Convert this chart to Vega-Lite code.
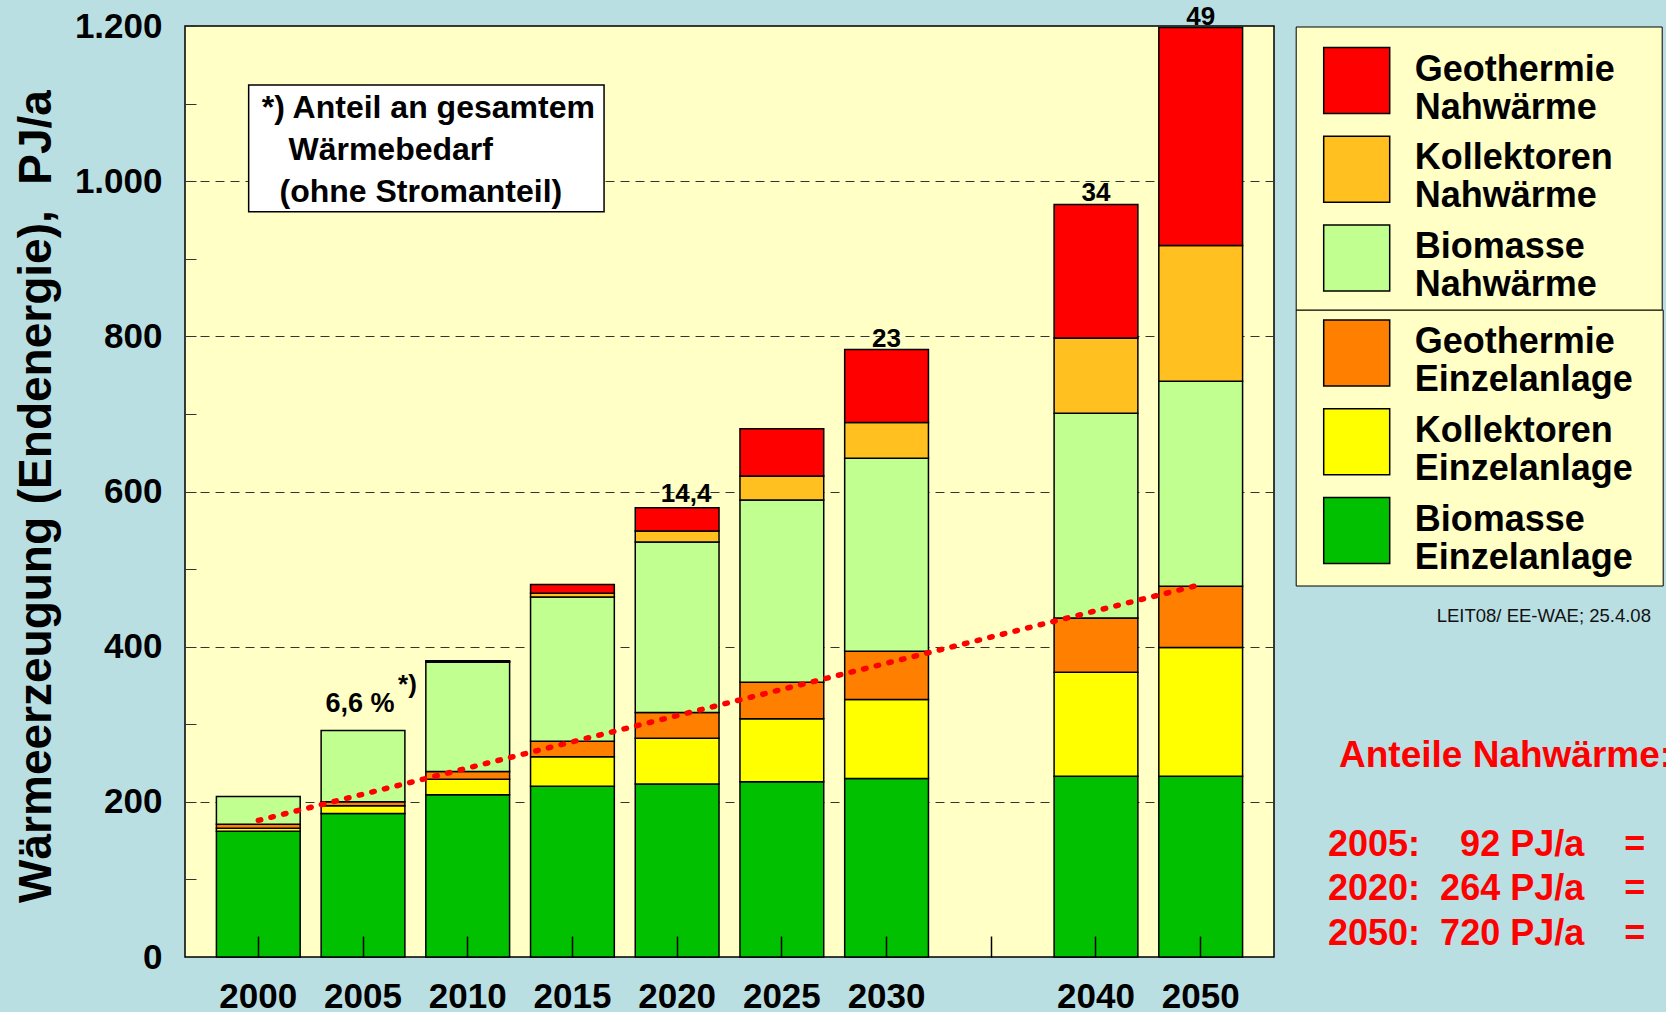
{
  "$schema": "https://vega.github.io/schema/vega-lite/v6.json",
  "width": 1089,
  "height": 931,
  "autosize": {"type": "none"},
  "padding": {"left": 185, "top": 26, "right": 392, "bottom": 55},
  "background": "#B9DFE3",
  "config": {
    "font": "Liberation Sans",
    "view": {"fill": "#FFFFC6", "stroke": "#000000", "strokeWidth": 1.5}
  },
  "datasets": {
    "werte": [
      {"jahr": "2000", "typ": "Biomasse Einzelanlage", "wert": 162},
      {"jahr": "2000", "typ": "Kollektoren Einzelanlage", "wert": 4},
      {"jahr": "2000", "typ": "Geothermie Einzelanlage", "wert": 5},
      {"jahr": "2000", "typ": "Biomasse Nahwärme", "wert": 36},
      {"jahr": "2000", "typ": "Kollektoren Nahwärme", "wert": 0},
      {"jahr": "2000", "typ": "Geothermie Nahwärme", "wert": 0},
      {"jahr": "2005", "typ": "Biomasse Einzelanlage", "wert": 185},
      {"jahr": "2005", "typ": "Kollektoren Einzelanlage", "wert": 10},
      {"jahr": "2005", "typ": "Geothermie Einzelanlage", "wert": 5},
      {"jahr": "2005", "typ": "Biomasse Nahwärme", "wert": 92},
      {"jahr": "2005", "typ": "Kollektoren Nahwärme", "wert": 0},
      {"jahr": "2005", "typ": "Geothermie Nahwärme", "wert": 0},
      {"jahr": "2010", "typ": "Biomasse Einzelanlage", "wert": 209},
      {"jahr": "2010", "typ": "Kollektoren Einzelanlage", "wert": 20},
      {"jahr": "2010", "typ": "Geothermie Einzelanlage", "wert": 10},
      {"jahr": "2010", "typ": "Biomasse Nahwärme", "wert": 141},
      {"jahr": "2010", "typ": "Kollektoren Nahwärme", "wert": 1},
      {"jahr": "2010", "typ": "Geothermie Nahwärme", "wert": 1},
      {"jahr": "2015", "typ": "Biomasse Einzelanlage", "wert": 220},
      {"jahr": "2015", "typ": "Kollektoren Einzelanlage", "wert": 38},
      {"jahr": "2015", "typ": "Geothermie Einzelanlage", "wert": 20},
      {"jahr": "2015", "typ": "Biomasse Nahwärme", "wert": 186},
      {"jahr": "2015", "typ": "Kollektoren Nahwärme", "wert": 5},
      {"jahr": "2015", "typ": "Geothermie Nahwärme", "wert": 11},
      {"jahr": "2020", "typ": "Biomasse Einzelanlage", "wert": 223},
      {"jahr": "2020", "typ": "Kollektoren Einzelanlage", "wert": 59},
      {"jahr": "2020", "typ": "Geothermie Einzelanlage", "wert": 33},
      {"jahr": "2020", "typ": "Biomasse Nahwärme", "wert": 220},
      {"jahr": "2020", "typ": "Kollektoren Nahwärme", "wert": 14},
      {"jahr": "2020", "typ": "Geothermie Nahwärme", "wert": 30},
      {"jahr": "2025", "typ": "Biomasse Einzelanlage", "wert": 226},
      {"jahr": "2025", "typ": "Kollektoren Einzelanlage", "wert": 81},
      {"jahr": "2025", "typ": "Geothermie Einzelanlage", "wert": 47},
      {"jahr": "2025", "typ": "Biomasse Nahwärme", "wert": 235},
      {"jahr": "2025", "typ": "Kollektoren Nahwärme", "wert": 31},
      {"jahr": "2025", "typ": "Geothermie Nahwärme", "wert": 61},
      {"jahr": "2030", "typ": "Biomasse Einzelanlage", "wert": 230},
      {"jahr": "2030", "typ": "Kollektoren Einzelanlage", "wert": 102},
      {"jahr": "2030", "typ": "Geothermie Einzelanlage", "wert": 62},
      {"jahr": "2030", "typ": "Biomasse Nahwärme", "wert": 249},
      {"jahr": "2030", "typ": "Kollektoren Nahwärme", "wert": 46},
      {"jahr": "2030", "typ": "Geothermie Nahwärme", "wert": 94},
      {"jahr": "2040", "typ": "Biomasse Einzelanlage", "wert": 233},
      {"jahr": "2040", "typ": "Kollektoren Einzelanlage", "wert": 134},
      {"jahr": "2040", "typ": "Geothermie Einzelanlage", "wert": 70},
      {"jahr": "2040", "typ": "Biomasse Nahwärme", "wert": 264},
      {"jahr": "2040", "typ": "Kollektoren Nahwärme", "wert": 97},
      {"jahr": "2040", "typ": "Geothermie Nahwärme", "wert": 172},
      {"jahr": "2050", "typ": "Biomasse Einzelanlage", "wert": 233},
      {"jahr": "2050", "typ": "Kollektoren Einzelanlage", "wert": 166},
      {"jahr": "2050", "typ": "Geothermie Einzelanlage", "wert": 79},
      {"jahr": "2050", "typ": "Biomasse Nahwärme", "wert": 264},
      {"jahr": "2050", "typ": "Kollektoren Nahwärme", "wert": 175},
      {"jahr": "2050", "typ": "Geothermie Nahwärme", "wert": 281}
    ],
    "anteile": [
      {"jahr": "2005", "anteil": "6,6 %"},
      {"jahr": "2020", "anteil": "14,4"},
      {"jahr": "2030", "anteil": "23"},
      {"jahr": "2040", "anteil": "34"},
      {"jahr": "2050", "anteil": "49"}
    ],
    "trend": [
      {"jahr": "2000", "wert": 176},
      {"jahr": "2050", "wert": 480}
    ],
    "notiz": [
      {"text": "*) Anteil an gesamtem\n\u200b\u00a0\u00a0\u00a0Wärmebedarf\n\u200b\u00a0\u00a0(ohne Stromanteil)"}
    ],
    "nahwaerme": [
      {"titel": "Anteile Nahwärme:", "zeilen": "2005:\u00a0\u00a0\u00a0\u00a092\u00a0PJ/a\u00a0\u00a0\u00a0\u00a0=\n2020:\u00a0\u00a0264\u00a0PJ/a\u00a0\u00a0\u00a0\u00a0=\n2050:\u00a0\u00a0720\u00a0PJ/a\u00a0\u00a0\u00a0\u00a0="}
    ],
    "quelle": [
      {"text": "LEIT08/ EE-WAE; 25.4.08"}
    ]
  },
  "layer": [
    {
      "layer": [
        {
          "data": {"name": "werte"},
          "transform": [
            {"stack": "wert", "groupby": ["jahr"], "as": ["y0", "y1"]},
            {"filter": "datum.wert > 0"}
          ],
          "encoding": {
            "x": {
              "field": "jahr", "type": "nominal",
              "scale": {"type": "band", "domain": ["2000", "2005", "2010", "2015", "2020", "2025", "2030", "2035", "2040", "2050"], "paddingInner": 0.2, "paddingOuter": 0.3},
              "axis": {
                "title": null, "labelExpr": "datum.value == '2035' ? '' : datum.label",
                "labelAngle": 0, "labelFontSize": 35, "labelFontWeight": "bold", "labelColor": "#000000",
                "labelPadding": 43, "tickSize": -21, "tickColor": "#000000", "tickWidth": 1.5,
                "domain": false, "grid": false, "zindex": 1
              }
            },
            "y": {
              "field": "y1", "type": "quantitative",
              "scale": {"domain": [0, 1200], "nice": false},
              "axis": {
                "title": "Wärmeerzeugung (Endenergie),\u00a0 PJ/a",
                "titleFontSize": 46, "titleFontWeight": "bold", "titleColor": "#000000",
                "titleX": -135, "titleY": 470, "titleAngle": -90, "titleBaseline": "alphabetic", "titleAlign": "center",
                "values": [0, 100, 200, 300, 400, 500, 600, 700, 800, 900, 1000, 1100, 1200],
                "labelExpr": "datum.value % 200 == 0 ? replace(format(datum.value, ','), ',', '.') : ''",
                "labelFontSize": 35, "labelFontWeight": "bold", "labelColor": "#000000", "labelOverlap": false,
                "labelPadding": 34, "tickSize": -11, "tickColor": "#333333", "tickWidth": 1,
                "domain": false, "grid": true, "gridColor": "#333333", "gridDash": [9, 6], "gridWidth": 1,
                "gridOpacity": {"condition": {"test": "datum.value % 200 != 0 || datum.value == 0 || datum.value == 1200", "value": 0}, "value": 1},
                "zindex": 0
              }
            },
            "y2": {"field": "y0"}
          },
          "layer": [
            {
              "transform": [{"filter": "indexof(datum.typ, 'Einzelanlage') >= 0"}],
              "mark": {"type": "bar", "stroke": "#000000", "strokeWidth": 1.5},
              "encoding": {
                "fill": {
                  "field": "typ", "type": "nominal",
                  "scale": {"domain": ["Geothermie Einzelanlage", "Kollektoren Einzelanlage", "Biomasse Einzelanlage"], "range": ["#FF8000", "#FFFF00", "#00C000"]},
                  "legend": {
                    "orient": "none", "legendX": 1110.7, "legendY": 283.5, "title": null,
                    "labelExpr": "[split(datum.label, ' ')[0], split(datum.label, ' ')[1] + '\u00a0\u00a0\u200b']",
                    "symbolType": "square", "symbolSize": 4356, "symbolStrokeColor": "#000000", "symbolStrokeWidth": 1.5,
                    "symbolOffset": 17.4, "labelFontSize": 36, "labelFontWeight": "bold", "labelColor": "#000000",
                    "labelOffset": 24, "labelLimit": 600, "labelBaseline": "alphabetic",
                    "fillColor": "#FFFFC6", "strokeColor": "#000000", "padding": 9.6, "rowPadding": 7.7
                  }
                }
              }
            },
            {
              "transform": [{"filter": "indexof(datum.typ, 'Nahwärme') >= 0"}],
              "mark": {"type": "bar", "stroke": "#000000", "strokeWidth": 1.5},
              "encoding": {
                "fill": {
                  "field": "typ", "type": "nominal",
                  "scale": {"domain": ["Geothermie Nahwärme", "Kollektoren Nahwärme", "Biomasse Nahwärme"], "range": ["#FF0000", "#FFC020", "#C0FF90"]},
                  "legend": {
                    "orient": "none", "legendX": 1110.7, "legendY": 0.5,
                    "title": "\u200b", "titleFontSize": 8, "titlePadding": 6,
                    "labelExpr": "[split(datum.label, ' ')[0] + '\u00a0\u00a0\u00a0\u00a0\u200b', split(datum.label, ' ')[1]]",
                    "symbolType": "square", "symbolSize": 4356, "symbolStrokeColor": "#000000", "symbolStrokeWidth": 1.5,
                    "symbolOffset": 21, "labelFontSize": 36, "labelFontWeight": "bold", "labelColor": "#000000",
                    "labelOffset": 24, "labelLimit": 600, "labelBaseline": "alphabetic",
                    "fillColor": "#FFFFC6", "strokeColor": "#000000", "padding": 6, "rowPadding": 7.7
                  }
                }
              }
            }
          ],
          "resolve": {"scale": {"fill": "independent"}}
        },
        {
          "data": {"name": "trend"},
          "mark": {"type": "line", "color": "#FF0000", "strokeWidth": 5.5, "strokeDash": [2.5, 10.5], "strokeCap": "round"},
          "encoding": {
            "x": {"field": "jahr", "type": "nominal"},
            "y": {"field": "wert", "type": "quantitative"}
          }
        },
        {
          "data": {"name": "werte"},
          "transform": [
            {"aggregate": [{"op": "sum", "field": "wert", "as": "gesamt"}], "groupby": ["jahr"]},
            {"lookup": "jahr", "from": {"data": {"name": "anteile"}, "key": "jahr", "fields": ["anteil"]}},
            {"filter": "datum.anteil != null"}
          ],
          "encoding": {
            "x": {"field": "jahr", "type": "nominal"},
            "y": {"field": "gesamt", "type": "quantitative"},
            "text": {"field": "anteil", "type": "nominal"}
          },
          "layer": [
            {
              "transform": [{"filter": "datum.jahr == '2030' || datum.jahr == '2040' || datum.jahr == '2050'"}],
              "mark": {"type": "text", "fontSize": 26, "fontWeight": "bold", "color": "#000000", "align": "center", "baseline": "alphabetic", "dy": -3}
            },
            {
              "transform": [{"filter": "datum.jahr == '2020'"}],
              "mark": {"type": "text", "fontSize": 26, "fontWeight": "bold", "color": "#000000", "align": "center", "baseline": "alphabetic", "dx": 9, "dy": -6}
            },
            {
              "transform": [{"filter": "datum.jahr == '2005'"}],
              "mark": {"type": "text", "fontSize": 27, "fontWeight": "bold", "color": "#000000", "align": "center", "baseline": "alphabetic", "dx": -3, "dy": -18}
            },
            {
              "transform": [{"filter": "datum.jahr == '2005'"}],
              "mark": {"type": "text", "fontSize": 26, "fontWeight": "bold", "color": "#000000", "align": "left", "baseline": "alphabetic", "dx": 35, "dy": -37},
              "encoding": {"text": {"value": "*)"}}
            }
          ]
        }
      ]
    },
    {
      "layer": [
        {
          "data": {"name": "notiz"},
          "mark": {"type": "rect", "fill": "#FFFFFF", "stroke": "#000000", "strokeWidth": 1.5},
          "encoding": {
            "x": {"datum": 0.608, "type": "quantitative", "scale": {"domain": [0, 10.4], "nice": false, "zero": false}, "axis": null},
            "x2": {"datum": 4.002},
            "y": {"datum": 1124, "type": "quantitative"},
            "y2": {"datum": 960.6}
          }
        },
        {
          "data": {"name": "notiz"},
          "mark": {"type": "text", "lineBreak": "\n", "align": "left", "baseline": "alphabetic", "fontSize": 32, "fontWeight": "bold", "lineHeight": 42, "color": "#000000"},
          "encoding": {
            "x": {"datum": 0.733, "type": "quantitative"},
            "y": {"datum": 1081.4, "type": "quantitative"},
            "text": {"field": "text", "type": "nominal"}
          }
        },
        {
          "data": {"name": "nahwaerme"},
          "mark": {"type": "text", "align": "left", "baseline": "alphabetic", "fontSize": 37, "fontWeight": "bold", "color": "#FF0000"},
          "encoding": {
            "x": {"datum": 11.021, "type": "quantitative"},
            "y": {"datum": 244.9, "type": "quantitative"},
            "text": {"field": "titel", "type": "nominal"}
          }
        },
        {
          "data": {"name": "nahwaerme"},
          "mark": {"type": "text", "lineBreak": "\n", "align": "left", "baseline": "alphabetic", "fontSize": 36, "fontWeight": "bold", "lineHeight": 44.5, "color": "#FF0000"},
          "encoding": {
            "x": {"datum": 10.916, "type": "quantitative"},
            "y": {"datum": 130.2, "type": "quantitative"},
            "text": {"field": "zeilen", "type": "nominal"}
          }
        },
        {
          "data": {"name": "quelle"},
          "mark": {"type": "text", "align": "right", "baseline": "alphabetic", "fontSize": 18.5, "color": "#111111"},
          "encoding": {
            "x": {"datum": 14.0, "type": "quantitative"},
            "y": {"datum": 431.2, "type": "quantitative"},
            "text": {"field": "text", "type": "nominal"}
          }
        }
      ]
    }
  ],
  "resolve": {"scale": {"x": "independent"}}
}
